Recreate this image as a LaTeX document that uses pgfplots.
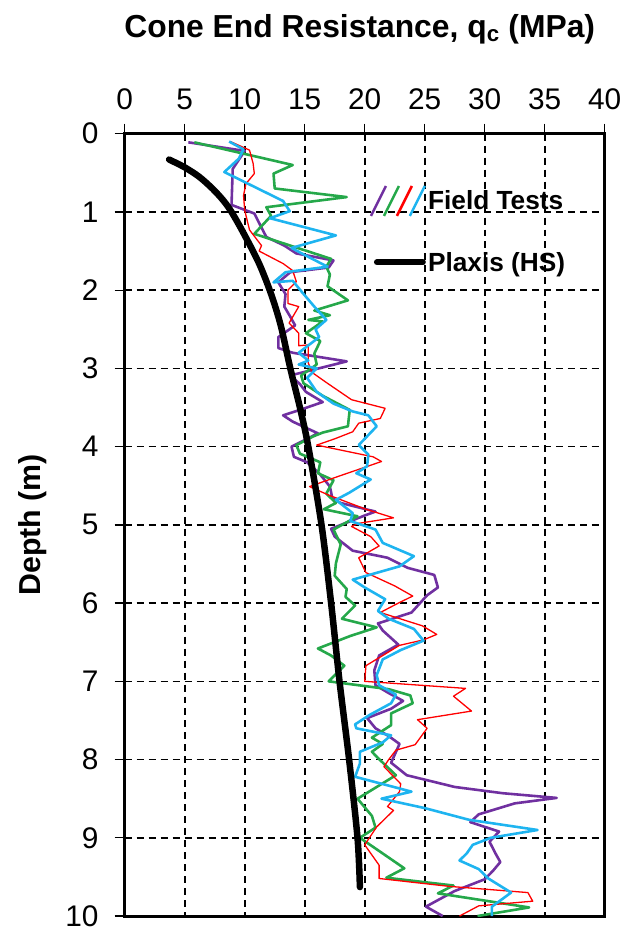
\documentclass[border=0pt]{standalone}
\usepackage{fontspec}
\setmainfont{Liberation Sans}
\usepackage{pgfplots}
\pgfplotsset{compat=1.18}
\definecolor{fpurple}{HTML}{7030A0}
\definecolor{fgreen}{HTML}{25A84A}
\definecolor{fred}{HTML}{FF0000}
\definecolor{fblue}{HTML}{1EB4F0}
\begin{document}
\begin{tikzpicture}
\useasboundingbox (-125bp,-15bp) rectangle (515bp,918bp);
\begin{axis}[
 at={(0,0)}, anchor=south west,
 scale only axis, width=481bp, height=784bp,
 xmin=0, xmax=40, ymin=0, ymax=10, y dir=reverse,
 xtick={0,5,...,40}, ytick={0,1,...,10},
 xtick pos=upper, xticklabel pos=upper, ytick pos=left,
 tick align=outside, major tick length=10bp,
 tick style={black, line width=1.3bp},
 axis line style={line width=3bp},
 grid=major,
 major grid style={black, line width=1.6bp, dash pattern=on 7bp off 5bp},
 /pgf/number format/assume math mode=true,
 ticklabel style={font=\fontsize{30}{32}\selectfont},
 xticklabel style={anchor=base, inner sep=0pt, yshift=14bp},
 yticklabel style={anchor=east, inner sep=0pt, xshift=-16bp},
 ylabel={Depth (m)},
 ylabel style={font=\fontsize{30.5}{32}\selectfont\bfseries, at={(axis description cs:0,0.5)}, anchor=center, yshift=92bp},
 title={Cone End Resistance, q\textsubscript{c} (MPa)},
 title style={font=\fontsize{32}{34}\selectfont\bfseries, at={(axis description cs:0.5,1)}, anchor=base, yshift=90bp, xshift=-5bp},
 legend style={draw=none, fill=none, at={(axis cs:20.4,0.65)}, anchor=north west,
   font=\fontsize{26.4}{28}\selectfont\bfseries, row sep=33bp, inner sep=0pt},
 legend cell align=left,
 every axis plot/.append style={line join=round},
]
\addlegendimage{legend image code/.code={
  \draw[fpurple, line width=2.5bp] (0bp,-15bp) -- (15bp,15bp);
  \draw[fgreen, line width=2.5bp] (13bp,-15bp) -- (28bp,15bp);
  \draw[fred, line width=2.5bp] (26bp,-15bp) -- (41bp,15bp);
  \draw[fblue, line width=2.5bp] (39bp,-15bp) -- (54bp,15bp);
}}
\addlegendentry{Field Tests}
\addlegendimage{legend image code/.code={
  \draw[black, line width=6bp, line cap=round] (6bp,0bp) -- (52bp,0bp);
}}
\addlegendentry{Plaxis (HS)}

% Purple
\addplot[fpurple, line width=2.6bp, forget plot] coordinates {
(5.3,0.11)(10.0,0.22)(9.0,0.45)(8.9,0.91)(10.8,1.02)(11.8,1.32)(13.3,1.43)(14.3,1.53)(17.4,1.62)(17.0,1.71)(13.8,1.77)(12.8,1.90)(13.4,2.05)(13.3,2.21)(13.8,2.34)(14.2,2.45)(12.8,2.60)(12.8,2.74)(14.0,2.80)(18.5,2.91)(13.8,3.09)(14.6,3.20)(15.1,3.30)(16.5,3.43)(14.8,3.52)(13.2,3.60)(14.0,3.68)(16.1,3.83)(13.9,4.00)(14.1,4.13)(15.2,4.20)(16.2,4.34)(17.1,4.51)(17.3,4.66)(18.0,4.72)(20.9,4.83)(20.0,4.88)(17.2,5.05)(17.5,5.15)(19.0,5.33)(21.9,5.42)(23.6,5.55)(25.8,5.64)(26.1,5.80)(25.2,5.90)(23.9,6.12)(21.1,6.26)(21.5,6.35)(22.8,6.53)(21.2,6.67)(20.8,6.86)(20.9,7.05)(22.0,7.15)(23.2,7.25)(22.2,7.35)(20.2,7.47)(20.9,7.60)(22.0,7.70)(22.9,7.80)(22.2,8.04)(23.5,8.20)(27.5,8.35)(31.5,8.43)(36.0,8.49)(32.5,8.56)(29.5,8.70)(28.8,8.80)(31.2,8.92)(30.4,9.05)(30.9,9.20)(31.3,9.31)(30.7,9.42)(30.0,9.53)(27.5,9.68)(25.1,9.88)(26.5,10.0)
};
% Green
\addplot[fgreen, line width=2.6bp, forget plot] coordinates {
(5.8,0.11)(14.0,0.40)(12.4,0.51)(12.5,0.70)(18.5,0.81)(11.8,0.94)(12.2,1.05)(10.8,1.28)(13.8,1.43)(17.2,1.60)(16.8,1.70)(17.1,1.80)(16.9,1.95)(18.6,2.13)(15.8,2.26)(17.1,2.32)(15.3,2.38)(16.5,2.40)(15.1,2.55)(16.3,2.65)(15.8,2.81)(16.0,2.95)(14.7,3.09)(14.9,3.19)(16.5,3.35)(18.75,3.53)(18.6,3.74)(16.5,3.82)(15.7,3.87)(14.3,3.98)(14.6,4.09)(16.3,4.20)(16.1,4.34)(17.4,4.43)(16.8,4.60)(17.6,4.72)(16.6,4.80)(19.4,4.89)(17.4,5.06)(18.0,5.25)(17.6,5.49)(17.5,5.65)(18.5,5.82)(18.4,5.92)(19.2,6.03)(18.1,6.20)(21.0,6.31)(18.8,6.42)(16.1,6.58)(17.2,6.67)(18.3,6.80)(17.0,7.0)(22.0,7.10)(23.8,7.18)(24.0,7.28)(22.2,7.41)(22.2,7.56)(20.6,7.72)(21.5,7.80)(20.6,7.90)(21.1,7.98)(22.6,8.20)(19.4,8.50)(20.6,8.72)(20.9,8.87)(19.6,9.0)(21.5,9.20)(23.3,9.39)(21.8,9.51)(27.4,9.61)(26.1,9.71)(33.7,9.89)(29.4,10.0)
};
% Red
\addplot[fred, line width=1.3bp, forget plot] coordinates {
(8.8,0.10)(10.4,0.21)(10.7,0.38)(10.8,0.51)(10.1,0.64)(9.9,0.79)(10.0,0.98)(10.4,1.23)(11.4,1.43)(11.2,1.50)(13.2,1.66)(14.0,1.75)(14.3,1.89)(13.6,2.00)(13.6,2.17)(14.5,2.21)(13.7,2.42)(14.5,2.55)(14.5,2.71)(15.3,2.70)(15.3,2.93)(15.6,3.05)(16.8,3.18)(18.9,3.40)(21.7,3.51)(21.3,3.64)(19.5,3.70)(19.0,3.81)(17.5,3.90)(16.0,3.98)(20.7,4.13)(21.4,4.19)(17.8,4.38)(15.4,4.51)(17.0,4.62)(20.1,4.80)(22.4,4.91)(19.5,4.98)(18.9,5.02)(20.5,5.15)(21.2,5.27)(19.5,5.42)(20.1,5.61)(22.5,5.78)(24.0,5.91)(22.8,6.0)(21.3,6.12)(24.8,6.29)(26.0,6.40)(24.9,6.47)(22.9,6.54)(20.1,6.80)(20.0,7.0)(28.4,7.09)(27.4,7.19)(28.9,7.38)(24.4,7.49)(25.2,7.60)(24.2,7.81)(22.6,7.88)(22.0,8.0)(21.6,8.09)(23.0,8.31)(22.9,8.41)(21.9,8.60)(22.4,8.65)(21.0,8.86)(20.0,9.09)(21.2,9.35)(21.2,9.52)(27.0,9.62)(33.6,9.70)(34.0,9.81)(29.5,9.87)(27.9,10.0)
};
% Blue
\addplot[fblue, line width=2.6bp, forget plot] coordinates {
(8.7,0.10)(9.9,0.20)(9.5,0.32)(8.3,0.49)(13.2,0.86)(13.75,0.99)(12.1,1.08)(17.6,1.30)(13.9,1.46)(15.0,1.55)(16.9,1.70)(13.4,1.77)(12.4,1.90)(14.0,1.88)(14.8,2.03)(15.8,2.21)(16.8,2.38)(15.9,2.50)(16.2,2.60)(14.5,2.80)(15.3,2.90)(14.5,2.95)(16.0,3.0)(15.2,3.12)(16.0,3.30)(17.4,3.45)(19.0,3.55)(20.3,3.60)(21.0,3.74)(19.5,3.98)(20.3,4.10)(20.2,4.25)(19.3,4.34)(20.5,4.42)(18.7,4.59)(17.6,4.68)(19.0,4.85)(18.8,4.95)(20.9,5.06)(21.5,5.23)(24.1,5.40)(22.9,5.53)(19.0,5.70)(20.0,5.80)(21.7,5.95)(21.1,6.10)(22.0,6.20)(24.1,6.33)(24.9,6.48)(23.0,6.60)(21.5,6.72)(21.0,6.92)(21.2,7.05)(22.6,7.17)(22.2,7.28)(20.4,7.43)(19.2,7.55)(19.3,7.60)(22.2,7.69)(21.5,7.78)(19.6,7.90)(19.6,8.05)(19.2,8.22)(23.9,8.41)(21.4,8.50)(25.0,8.62)(28.7,8.77)(34.4,8.90)(30.5,9.00)(29.0,9.09)(28.5,9.20)(27.9,9.29)(29.5,9.40)(30.3,9.52)(32.2,9.70)(30.6,9.88)(30.6,10.0)
};
% Plaxis (HS)
\addplot[black, line width=6.5bp, line cap=round, smooth, forget plot] coordinates {
(3.7,0.33)(5.0,0.43)(6.2,0.55)(7.3,0.70)(8.2,0.85)(8.9,1.0)(9.9,1.27)(11.2,1.66)(12.2,2.05)(13.0,2.45)(13.8,3.0)(14.6,3.5)(15.3,4.0)(16.4,5.0)(17.2,6.0)(17.9,7.0)(18.7,8.0)(19.4,9.0)(19.6,9.63)
};
\end{axis}
\end{tikzpicture}
\end{document}
